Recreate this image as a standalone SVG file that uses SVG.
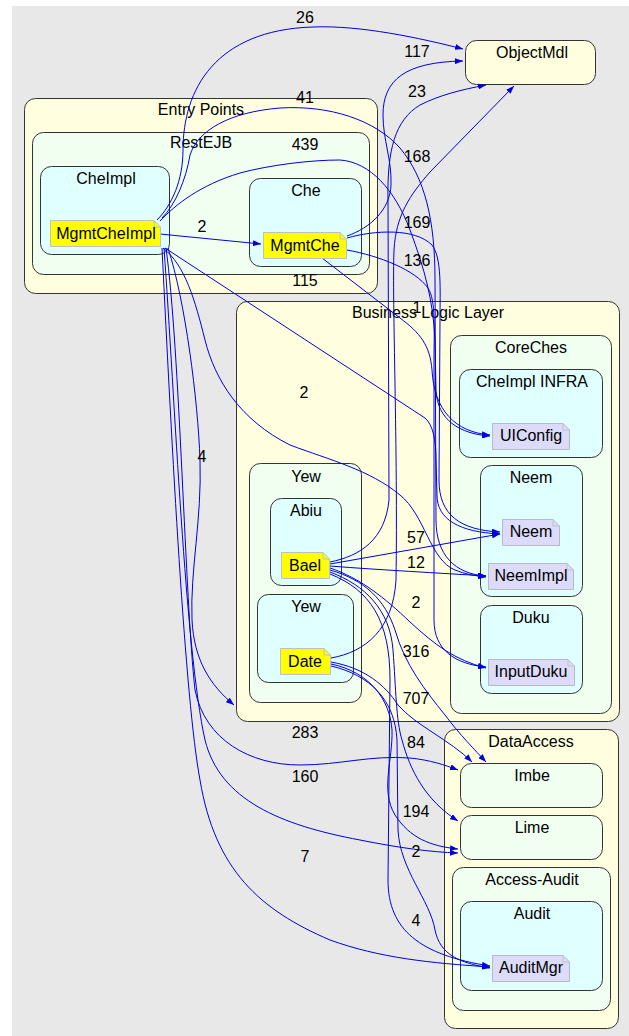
<svg xmlns="http://www.w3.org/2000/svg" width="629" height="1036" viewBox="0 0 629 1036">
<defs>
<style>
text{font-family:"Liberation Sans",Arial,sans-serif;font-size:16px;fill:#000;text-anchor:middle}
.cl{stroke:#333;stroke-width:1}
.y{fill:#ffffe0}.h{fill:#f0fff0}.c{fill:#e0ffff}
.ny{fill:#ffff00;stroke:#c0c0c0;stroke-width:1}
.nl{fill:#dcdcfa;stroke:#b8b8c8;stroke-width:1}
.fold{fill:none;stroke:#c0c0c0;stroke-width:1}
.e path{fill:none;stroke:#0000dd;stroke-width:1;marker-end:url(#a)}
</style>
<marker id="a" viewBox="0 0 8 6" refX="8" refY="3" markerWidth="8" markerHeight="6" orient="auto" markerUnits="userSpaceOnUse"><path d="M0,0 L8,3 L0,6 z" fill="#0000dd"/></marker>
</defs>
<rect x="12" y="6" width="617" height="1030" fill="#e8e8e8"/>

<g id="clusters">
<g id="entry-points"><rect class="cl y" x="24.5" y="98.5" width="353" height="195" rx="11"/><text x="201" y="115">Entry Points</text></g>
<g id="restejb"><rect class="cl h" x="32.5" y="132.5" width="337" height="142" rx="11"/><text x="201" y="148">RestEJB</text></g>
<g id="cheimpl-cluster"><rect class="cl c" x="40.5" y="166.5" width="129" height="88" rx="11"/><text x="106" y="184">CheImpl</text></g>
<g id="che-cluster"><rect class="cl c" x="249.5" y="178.5" width="112" height="88" rx="11"/><text x="306" y="196">Che</text></g>
<g id="objectmdl"><rect class="cl y" x="465.5" y="40.5" width="130" height="44" rx="11"/><text x="532" y="58">ObjectMdl</text></g>
<g id="business-logic-layer"><rect class="cl y" x="236.5" y="301.5" width="383" height="420" rx="11"/><text x="428" y="318">Business Logic Layer</text></g>
<g id="coreches"><rect class="cl h" x="450.5" y="335.5" width="161" height="378" rx="11"/><text x="531" y="353">CoreChes</text></g>
<g id="cheimpl-infra"><rect class="cl c" x="459.5" y="369.5" width="143" height="88" rx="11"/><text x="532" y="387">CheImpl INFRA</text></g>
<g id="neem-cluster"><rect class="cl c" x="480.5" y="465.5" width="102" height="131" rx="11"/><text x="531" y="483">Neem</text></g>
<g id="duku"><rect class="cl c" x="480.5" y="605.5" width="102" height="88" rx="11"/><text x="531" y="623">Duku</text></g>
<g id="yew-outer"><rect class="cl h" x="249.5" y="463.5" width="112" height="239" rx="11"/><text x="306" y="482">Yew</text></g>
<g id="abiu"><rect class="cl c" x="270.5" y="498.5" width="71" height="87" rx="11"/><text x="306" y="516">Abiu</text></g>
<g id="yew-inner"><rect class="cl c" x="257.5" y="594.5" width="96" height="88" rx="11"/><text x="306" y="612">Yew</text></g>
<g id="dataaccess"><rect class="cl y" x="444.5" y="729.5" width="174" height="299" rx="11"/><text x="531" y="747">DataAccess</text></g>
<g id="imbe"><rect class="cl h" x="460.5" y="763.5" width="142" height="44" rx="11"/><text x="532" y="781">Imbe</text></g>
<g id="lime"><rect class="cl h" x="460.5" y="815.5" width="142" height="44" rx="11"/><text x="532" y="833">Lime</text></g>
<g id="access-audit"><rect class="cl h" x="452.5" y="867.5" width="158" height="143" rx="11"/><text x="532" y="885">Access-Audit</text></g>
<g id="audit"><rect class="cl c" x="460.5" y="901.5" width="142" height="89" rx="11"/><text x="532" y="919">Audit</text></g>
</g>

<g id="connectors" class="e">
<path d="M157,220 C172,205 183,180 183,150 C183,90 215,30 313,27 C360,25 420,38 463,49"/>
<path d="M162,218 C175,205 186,180 190,155 C198,130 230,112 280,108 C330,105 375,120 400,148 C425,178 435,220 435,280 L436,520 C436,555 455,574 486,576"/>
<path d="M160,221 C175,205 200,185 240,173 C270,165 310,160 340,160 C370,162 395,190 410,230 C425,270 433,300 435,340 L436,390 C437,420 460,434 490,436"/>
<path d="M347,236 C370,228 390,210 391,185 C392,160 383,140 383,115 C383,80 405,62 463,61"/>
<path d="M330,562 C360,556 385,540 389,500 L388,200 C387,150 395,120 420,105 C440,95 460,90 486,85"/>
<path d="M331,658 C365,652 393,630 396,580 C398,450 392,300 394,250 C396,215 410,195 430,172 L514,86"/>
<path d="M347,238 C375,230 415,228 432,245 C442,258 440,290 440,320 L439,480 C439,515 460,530 500,532"/>
<path d="M347,250 C380,256 415,270 428,288 C436,300 434,330 434,360 L434,620 C434,650 455,664 486,667"/>
<path d="M322,258 L400,318 C420,333 430,345 432,370 C434,410 455,432 490,435"/>
<path d="M160,234 L261,244"/>
<path d="M165,248 L425,418 C433,425 436,440 436,460 L437,495 C437,520 460,532 500,534"/>
<path d="M163,248 C185,265 195,300 205,340 C215,380 240,420 290,445 C330,460 370,470 400,495 C425,515 430,560 455,570 C465,574 475,576 486,577"/>
<path d="M168,248 C185,300 198,400 200,460 C202,520 190,570 192,620 C194,660 210,685 234,705"/>
<path d="M166,248 C180,350 185,600 195,690 C205,740 250,765 300,765 C340,765 370,755 410,758 C430,760 445,765 458,770"/>
<path d="M164,248 C175,400 185,650 205,740 C220,800 280,825 360,840 C400,848 430,852 458,853"/>
<path d="M162,248 C172,450 185,700 200,780 C215,870 260,910 330,940 C380,958 430,963 490,967"/>
<path d="M330,564 L500,534"/>
<path d="M330,566 C380,570 440,573 486,576"/>
<path d="M330,568 C360,578 385,598 410,622 C435,645 455,660 486,668"/>
<path d="M330,570 C365,580 385,600 395,630 C405,665 425,690 445,715 C460,735 475,750 486,762"/>
<path d="M331,662 C365,668 385,685 398,705 C415,725 450,740 472,762"/>
<path d="M330,572 C365,585 390,610 393,650 C396,690 396,720 402,740 C410,770 425,800 458,821"/>
<path d="M331,664 C370,672 390,700 392,730 C393,760 380,790 395,815 C410,838 430,846 458,849"/>
<path d="M330,574 C370,590 390,620 390,680 L388,880 C388,930 420,955 490,966"/>
<path d="M331,666 C370,675 395,700 397,740 L398,830 C400,870 430,900 435,930 C440,955 460,963 490,968"/>
</g>

<g id="nodes">
<g id="MgmtCheImpl"><path class="ny" d="M50.5,220.5 H154 L160.5,227 V246.5 H50.5 Z"/><path class="fold" d="M154,220.5 V227 H160.5"/><text x="106" y="239">MgmtCheImpl</text></g>
<g id="MgmtChe"><path class="ny" d="M263.5,232.5 H340 L346.5,239 V258.5 H263.5 Z"/><path class="fold" d="M340,232.5 V239 H346.5"/><text x="305" y="251">MgmtChe</text></g>
<g id="Bael"><path class="ny" d="M281.5,552.5 H323 L329.5,559 V578.5 H281.5 Z"/><path class="fold" d="M323,552.5 V559 H329.5"/><text x="305" y="571">Bael</text></g>
<g id="Date"><path class="ny" d="M280.5,648.5 H324 L330.5,655 V674.5 H280.5 Z"/><path class="fold" d="M324,648.5 V655 H330.5"/><text x="305" y="667">Date</text></g>
<g id="UIConfig"><path class="nl" d="M492.5,423.5 H563 L569.5,430 V449.5 H492.5 Z"/><path class="fold" d="M563,423.5 V430 H569.5"/><text x="531" y="441">UIConfig</text></g>
<g id="Neem"><path class="nl" d="M502.5,519.5 H553 L559.5,526 V545.5 H502.5 Z"/><path class="fold" d="M553,519.5 V526 H559.5"/><text x="531" y="537">Neem</text></g>
<g id="NeemImpl"><path class="nl" d="M488.5,563.5 H567 L573.5,570 V589.5 H488.5 Z"/><path class="fold" d="M567,563.5 V570 H573.5"/><text x="531" y="581">NeemImpl</text></g>
<g id="InputDuku"><path class="nl" d="M488.5,659.5 H568 L574.5,666 V685.5 H488.5 Z"/><path class="fold" d="M568,659.5 V666 H574.5"/><text x="531" y="677">InputDuku</text></g>
<g id="AuditMgr"><path class="nl" d="M492.5,955.5 H563 L569.5,962 V981.5 H492.5 Z"/><path class="fold" d="M563,955.5 V962 H569.5"/><text x="531" y="973">AuditMgr</text></g>
</g>

<g id="edge-labels">
<text x="305" y="23">26</text>
<text x="417" y="57">117</text>
<text x="305" y="103">41</text>
<text x="417" y="97">23</text>
<text x="305" y="150">439</text>
<text x="417" y="162">168</text>
<text x="202" y="232">2</text>
<text x="417" y="228">169</text>
<text x="417" y="266">136</text>
<text x="305" y="286">115</text>
<text x="417" y="313">1</text>
<text x="304" y="398">2</text>
<text x="202" y="462">4</text>
<text x="416" y="543">57</text>
<text x="416" y="568">12</text>
<text x="416" y="608">2</text>
<text x="416" y="657">316</text>
<text x="416" y="704">707</text>
<text x="305" y="738">283</text>
<text x="416" y="748">84</text>
<text x="305" y="782">160</text>
<text x="416" y="817">194</text>
<text x="416" y="857">2</text>
<text x="305" y="862">7</text>
<text x="416" y="926">4</text>
</g>
</svg>
